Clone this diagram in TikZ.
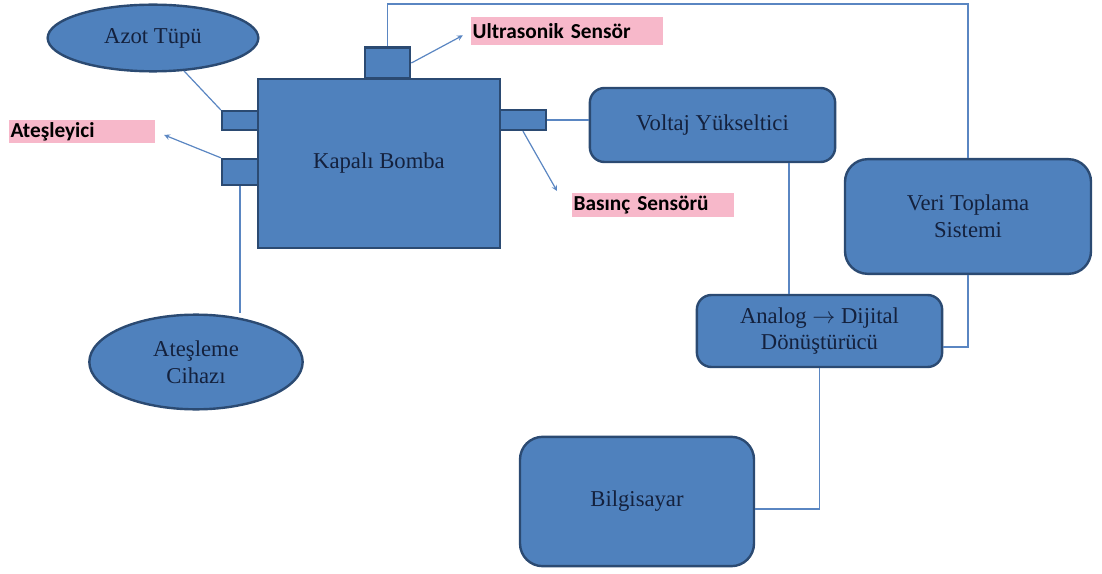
\documentclass[tikz,border=0pt]{standalone}
\usepackage{fontspec}
\setmainfont{Liberation Serif}
\newfontfamily\tagfont{Carlito}
\usetikzlibrary{arrows}
\usetikzlibrary{shapes}
\definecolor{boxfill}{HTML}{4F81BD}
\definecolor{boxline}{HTML}{2B4A72}
\definecolor{wire}{HTML}{5A86C2}
\definecolor{boxtext}{HTML}{14213D}
\definecolor{tagpink}{HTML}{F7B8CA}

\begin{document}
\begin{tikzpicture}[x=0.75pt, y=-0.75pt]
   \tikzset{PartStyle/.style={draw=boxline, fill=boxfill, line width=1.8pt, inner sep=0pt}}
   \tikzset{BoxStyle/.style={PartStyle, rounded corners=11pt, text=boxtext, align=center, font=\fontsize{17}{20}\selectfont}}
   \tikzset{BlobStyle/.style={PartStyle, ellipse, text=boxtext, align=center, font=\fontsize{17}{20}\selectfont}}
   \tikzset{TagStyle/.style={fill=tagpink, anchor=west, align=left, inner xsep=1pt, inner ysep=0pt, font=\tagfont\bfseries\fontsize{16}{18}\selectfont}}
   \tikzset{WireStyle/.style={draw=wire, line width=0.9pt}}
   \tikzset{PointerStyle/.style={WireStyle, ->, >=stealth}}
   \useasboundingbox (0,0) rectangle (1102,574);
   \node[BlobStyle, minimum width=158pt, minimum height=50pt] (azot) at (153,38) {Azot Tüpü};
   \node[BlobStyle, minimum width=160pt, minimum height=71pt] (cihaz) at (196,362) {Ateşleme\\Cihazı};
   \node[PartStyle, minimum width=27pt, minimum height=14pt] (upL) at (240,120.5) {};
   \node[PartStyle, minimum width=27pt, minimum height=19.5pt] (lowL) at (240,172) {};
   \node[PartStyle, minimum width=34.5pt, minimum height=15pt] (rightR) at (523,120) {};
   \node[PartStyle, minimum width=34pt, minimum height=23pt] (topR) at (387.5,63) {};
   \node[PartStyle, text=boxtext, font=\fontsize{17}{20}\selectfont, minimum width=181.5pt, minimum height=127pt] (bomba) at (379,163.5) {Kapalı Bomba};
   \node[BoxStyle, minimum width=184pt, minimum height=55.5pt] (voltaj) at (712.5,125) {Voltaj Yükseltici};
   \node[BoxStyle, rounded corners=17pt, minimum width=184.5pt, minimum height=86pt] (veri) at (968,216.5) {Veri Toplama\\Sistemi};
   \node[BoxStyle, minimum width=184pt, minimum height=54pt] (analog) at (819.5,331) {Analog $\rightarrow$ Dijital\\Dönüştürücü};
   \node[BoxStyle, rounded corners=17pt, minimum width=175.5pt, minimum height=97pt] (bilg) at (637,501.5) {Bilgisayar};
   \node[TagStyle, text width=107.5pt, minimum height=17.25pt] (ates) at (9,131.5) {Ateşleyici};
   \node[TagStyle, text width=142pt, minimum height=21pt] (ultra) at (471,31) {Ultrasonik Sensör};
   \node[TagStyle, text width=119.5pt, minimum height=18pt] (basinc) at (572,205) {Basınç Sensörü};
   \coordinate (basTip) at (557,191);
   \draw[WireStyle] (azot) -- (upL.north west);
   \draw[WireStyle] (lowL.south) -- (lowL.south |- cihaz.north);
   \draw[PointerStyle, shorten >=7pt] (lowL.north west) -- (ates.east);
   \draw[PointerStyle, shorten >=7pt] (topR.east) -- (ultra.west);
   \draw[PointerStyle] (rightR.south) -- (basTip);
   \draw[WireStyle] (rightR.east) -- (rightR.east -| voltaj.west);
   \draw[WireStyle] (topR.north) -- (topR.north |- 0,4) -| (veri.north);
   \draw[WireStyle] (789,0 |- voltaj.south) -- (789,0 |- analog.north);
   \draw[WireStyle] (veri.south) |- (analog.east |- 0,347);
   \draw[WireStyle] (analog.south) |- (bilg.east |- 0,509);
\end{tikzpicture}
\end{document}
